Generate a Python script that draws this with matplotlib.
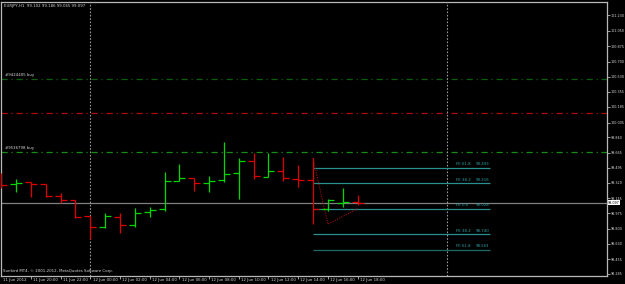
import matplotlib
matplotlib.use("Agg")
import matplotlib.pyplot as plt
from matplotlib.transforms import blended_transform_factory
import numpy as np

# ---------------- data ----------------
bar_times = ["11 Jun 18:00", "11 Jun 19:00", "11 Jun 20:00", "11 Jun 21:00", "11 Jun 22:00",
             "11 Jun 23:00", "12 Jun 00:00", "12 Jun 01:00", "12 Jun 02:00", "12 Jun 03:00",
             "12 Jun 04:00", "12 Jun 05:00", "12 Jun 06:00", "12 Jun 07:00", "12 Jun 08:00",
             "12 Jun 09:00", "12 Jun 10:00", "12 Jun 11:00", "12 Jun 12:00", "12 Jun 13:00",
             "12 Jun 14:00", "12 Jun 15:00", "12 Jun 16:00", "12 Jun 17:00", "12 Jun 18:00"]
opens  = [99.388, 99.303, 99.326, 99.303, 99.172, 99.127, 98.945, 98.820, 98.933, 98.842,
          98.990, 99.024, 99.343, 99.377, 99.320, 99.354, 99.434, 99.570, 99.388, 99.456,
          99.365, 99.354, 99.024, 99.095, 99.102]
highs  = [99.434, 99.365, 99.331, 99.308, 99.206, 99.127, 98.945, 98.979, 98.979, 99.036,
          99.047, 99.445, 99.536, 99.377, 99.399, 99.786, 99.604, 99.661, 99.661, 99.615,
          99.524, 99.604, 99.138, 99.263, 99.186]
lows   = [99.263, 99.218, 99.161, 99.161, 99.092, 98.922, 98.683, 98.808, 98.751, 98.820,
          98.933, 99.001, 99.343, 99.229, 99.218, 99.331, 99.138, 99.365, 99.388, 99.343,
          99.274, 98.851, 99.001, 99.047, 99.065]
closes = [99.297, 99.320, 99.308, 99.172, 99.127, 98.933, 98.820, 98.945, 98.842, 98.979,
          99.013, 99.343, 99.377, 99.320, 99.343, 99.422, 99.570, 99.399, 99.456, 99.377,
          99.354, 99.024, 99.127, 99.102, 99.097]

x_labels = ["11 Jun 2012", "11 Jun 20:00", "11 Jun 22:00", "12 Jun 00:00", "12 Jun 02:00",
            "12 Jun 04:00", "12 Jun 06:00", "12 Jun 08:00", "12 Jun 10:00", "12 Jun 12:00",
            "12 Jun 14:00", "12 Jun 16:00", "12 Jun 18:00"]
x_label_bars = [0, 2, 4, 6, 8, 10, 12, 14, 16, 18, 20, 22, 24]

y_ticks = [101.230, 101.050, 100.875, 100.700, 100.530, 100.355, 100.185, 100.005,
           99.840, 99.665, 99.495, 99.320, 99.145, 98.975, 98.800, 98.630, 98.455, 98.285]

bid = 99.097
order_lines = [100.502, 100.121, 99.672]
order_labels = ["#9424405 buy", "", "#9536798 buy"]
order_colors = ["#0b5e0b", "#b00c0c", "#168c16"]

fe_names = ["FE 61.8", "FE 38.2", "FE 0.0", "FE 38.2", "FE 61.8"]
fe_levels = [99.493, 99.316, 99.028, 98.740, 98.563]
fe_pts_x = [21, 22, 24]
fe_pts_y = [99.604, 98.851, 99.028]

separators = [6, 30]

title = "EURJPY,H1  99.102 99.186 99.065 99.097"
copyright_txt = "Sunbird MT4, \u00a9 2001-2012, MetaQuotes Software Corp."

# ---------------- figure ----------------
W, H = 625, 284
fig = plt.figure(figsize=(W / 100, H / 100), dpi=100, facecolor="black")
ax = fig.add_axes([0.8 / W, 1 - 276 / H, (607 - 0.8) / W, (276 - 2) / H])
ax.set_facecolor("black")
ax.set_xlim(-0.03, 40.8)
ax.set_ylim(98.262, 101.378)

FONT = ["DejaVu Sans"]
FS = 2.8
FSY = 2.4
TXT = "#d8d8d8"

# order lines
for lvl, lab, col in zip(order_lines, order_labels, order_colors):
    ax.axhline(lvl, color=col, lw=0.9, ls=(0, (5, 3, 1, 3)), zorder=1)
    if lab:
        ax.text(0.25, lvl + 0.025, lab, color=TXT, fontsize=FS, family=FONT,
                ha="left", va="bottom", zorder=3)

# bid line
ax.axhline(bid, color="#808080", lw=0.9, zorder=1)

# separators
for s in separators:
    ax.axvline(s, color="#9a9a9a", lw=0.8, ls=(0, (1.5, 1.5)), zorder=1)

# fibo expansion
fe_start, fe_end = 21, 32.9
for name, lvl in zip(fe_names, fe_levels):
    col = "#2a8f8f" if lvl != fe_levels[-1] else "#1f6a66"
    ax.hlines(lvl, fe_start, fe_end, color=col, lw=0.9, zorder=2)
    ax.text(30.6, lvl + 0.015, name, color="#2fa3a3", fontsize=FS, family=FONT,
            ha="left", va="bottom", zorder=3)
    ax.text(fe_end, lvl + 0.015, f"{lvl:.3f}", color="#2fa3a3", fontsize=FS, family=FONT,
            ha="right", va="bottom", zorder=3)
ax.plot(fe_pts_x, fe_pts_y, color="#a01010", lw=0.8, ls=(0, (1, 1.2)), zorder=4)

# bars
tick = 0.4
for i, (o, h, l, c) in enumerate(zip(opens, highs, lows, closes)):
    col = "#00d800" if c >= o else "#e00000"
    ax.vlines(i, l, h, color=col, lw=0.9, zorder=5)
    ax.hlines(o, i - tick, i, color=col, lw=0.9, zorder=5)
    ax.hlines(c, i, i + tick, color=col, lw=0.9, zorder=5)

# spines
for sp in ax.spines.values():
    sp.set_color("#b8b8b8")
    sp.set_linewidth(0.9)

# y axis on right
ax.yaxis.tick_right()
ax.set_yticks(y_ticks)
ax.set_yticklabels([f"{v:.3f}" for v in y_ticks])
ax.tick_params(axis="y", direction="out", length=2, width=0.6, color="#b8b8b8",
               pad=0.8, labelsize=FSY, labelcolor=TXT)
for lab in ax.get_yticklabels():
    lab.set_family(FONT)

# x axis ticks and labels
ax.set_xticks(x_label_bars[1:])
ax.set_xticklabels([])
ax.tick_params(axis="x", direction="out", length=2.5, width=0.6, color="#b8b8b8")
trans = blended_transform_factory(ax.transData, fig.transFigure)
for b, lab in zip(x_label_bars, x_labels):
    xo = 0.15 if b > 0 else 0.1
    ax.text(b + xo, 1 - 280.5 / H, lab, transform=trans, color=TXT, fontsize=FS,
            family=FONT, ha="left", va="center", clip_on=False)

# bid box on price axis
ax.text(1.002, bid, f"{bid:.3f}", transform=blended_transform_factory(ax.transAxes, ax.transData),
        color="black", fontsize=FSY, family=FONT, ha="left", va="center", clip_on=False,
        bbox=dict(boxstyle="square,pad=0.15", fc="white", ec="white", lw=0))

# title and copyright
fig.text(4 / W, 1 - 5.5 / H, title, color=TXT, fontsize=FS, family=FONT, ha="left", va="center")
fig.text(3 / W, 1 - 271 / H, copyright_txt, color=TXT, fontsize=FS, family=FONT,
         ha="left", va="center")

fig.savefig("out.png", dpi=100, facecolor="black")
